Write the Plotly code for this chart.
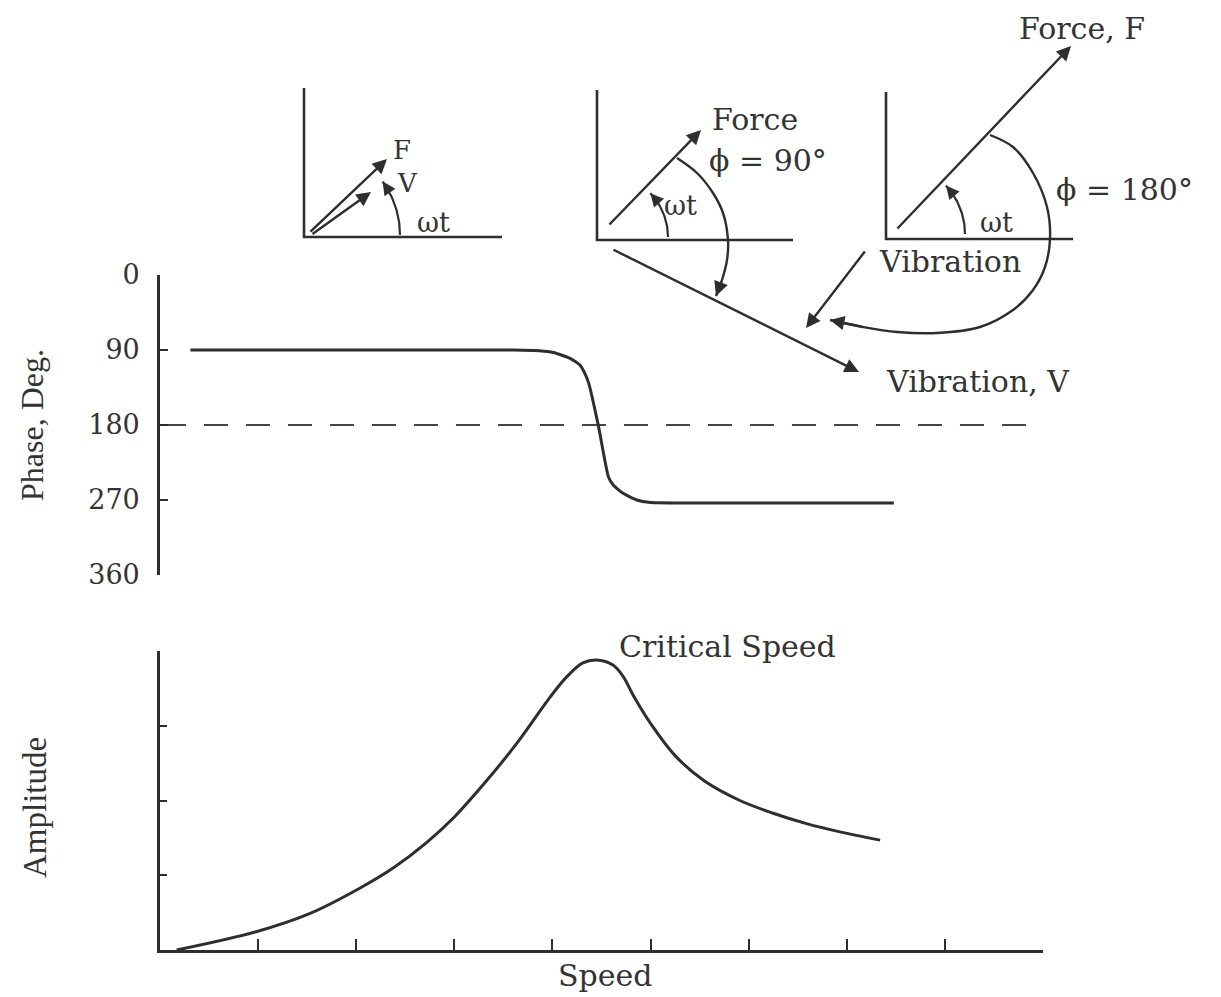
import numpy as np
import plotly.graph_objects as go

W, H = 1221, 997
INK = "#2e2e2e"
TXT = "#333333"
SERIF = "DejaVu Serif"

# ---------------- data ----------------
SPEED_TICKS = [1, 2, 3, 4, 5, 6, 7, 8, 9]
PHASE_TICKS = [0, 90, 180, 270, 360]
PHASE_TICK_LABELS = ["0", "90", "180", "270", "360"]
AMP_TICKS = [0, 1, 2, 3, 4]

PHASE_SPEED = [0.31, 1.5, 3.0, 3.6, 3.87, 4.01, 4.18, 4.28, 4.33, 4.37, 4.47, 4.57, 4.62, 4.72, 4.86, 5.0, 5.71, 7.48]
PHASE_DEG = [90, 90, 90, 90, 90.8, 93, 100, 108, 118, 130, 182, 242, 252, 262, 270, 273, 273.5, 273.5]

REF_SPEED = [0.02, 8.9]
REF_PHASE = [180, 180]

AMP_SPEED = [0.17, 0.98, 1.53, 2.04, 2.38, 2.72, 3.0, 3.30, 3.64, 3.98, 4.15, 4.31, 4.45,
             4.62, 4.72, 4.83, 5.0, 5.25, 5.55, 5.91, 6.25, 6.59, 6.93, 7.34]
AMPLITUDE = [0.0, 0.245, 0.49, 0.83, 1.10, 1.44, 1.78, 2.22, 2.77, 3.39, 3.66, 3.84, 3.88,
             3.81, 3.66, 3.39, 3.03, 2.60, 2.26, 2.00, 1.83, 1.69, 1.58, 1.47]

# vector diagrams (drawn in an overlay frame measured in pixels)
FRAME_ORIGINS = [(304, 237), (597, 240), (886, 239)]
FRAME_HEIGHTS = [149, 150, 147]
FRAME_WIDTHS = [198, 196, 187]
VECTORS = [  # x0, y0, x1, y1
    (309, 233, 387, 159),   # F (diagram 1)
    (311, 235, 371, 192),   # V (diagram 1)
    (608, 226, 701, 130),   # Force (diagram 2)
    (612, 249, 859, 372),   # Vibration, V (diagram 2)
    (896, 230, 1071, 46),   # Force, F (diagram 3)
    (866, 250, 806, 328),   # Vibration (diagram 3)
]
WT_ARCS = [  # cx, cy, r, start deg, end deg
    (309, 235, 91, 0, 36),
    (605, 237, 63, 0, 44),
    (894, 234, 71, 0, 43),
]
PHI90_ARC_X = [677, 697, 713, 723, 728, 727, 722, 716]
PHI90_ARC_Y = [158, 173, 193, 213, 240, 260, 280, 296]
PHI180_ARC_X = [990, 1013, 1033, 1047, 1050, 1045, 1033, 1013, 980, 937, 897, 863, 830]
PHI180_ARC_Y = [135, 147, 173, 207, 239, 267, 290, 310, 327, 333, 332, 327, 320]

LABELS = [  # text, x, y, size
    ("F", 402, 150, 26), ("V", 407, 183, 26), ("\u03c9t", 433, 222, 27),
    ("Force", 755, 119, 30), ("\u03d5 = 90\u00b0", 768, 160, 30), ("\u03c9t", 680, 205, 27),
    ("Force, F", 1082, 28, 30), ("\u03d5 = 180\u00b0", 1124, 189, 30), ("\u03c9t", 996, 222, 27),
    ("Vibration", 950, 261, 30), ("Vibration, V", 978, 381, 30),
    ("Critical Speed", 727, 646, 30),
]

# ---------------- layout geometry (pixels) ----------------
X_LEFT, X_RIGHT = 160, 1043
PH_TOP, PH_BOT = 275, 575
AM_TOP, AM_BOT = 651, 950


def py(p):
    return 1 - p / H


fig = go.Figure()

fig.add_trace(go.Scatter(x=REF_SPEED, y=REF_PHASE, mode="lines", xaxis="x2", yaxis="y2",
                         line=dict(color="#444", width=2, dash="24px,18px"), hoverinfo="skip"))
fig.add_trace(go.Scatter(x=PHASE_SPEED, y=PHASE_DEG, mode="lines", xaxis="x2", yaxis="y2",
                         line=dict(color=INK, width=3, shape="spline", smoothing=0.5)))
fig.add_trace(go.Scatter(x=AMP_SPEED, y=AMPLITUDE, mode="lines", xaxis="x", yaxis="y",
                         line=dict(color=INK, width=3, shape="spline", smoothing=1.0)))

ann = []
for (ox, oy), h, w in zip(FRAME_ORIGINS, FRAME_HEIGHTS, FRAME_WIDTHS):
    fig.add_trace(go.Scatter(x=[ox, ox, ox + w], y=[oy - h, oy, oy], mode="lines",
                             xaxis="x3", yaxis="y3", line=dict(color=INK, width=2.6),
                             hoverinfo="skip"))


def arrow(x0, y0, x1, y1, width=2.4):
    ann.append(dict(x=x1, y=y1, ax=x0, ay=y0, xref="x3", yref="y3", axref="x3", ayref="y3",
                    showarrow=True, arrowhead=2, arrowsize=1.2, arrowwidth=width,
                    arrowcolor=INK, text="", standoff=0, startstandoff=0))


for v in VECTORS:
    arrow(*v)

for cx, cy, r, a0, a1 in WT_ARCS:
    t = np.radians(np.linspace(a0, a1, 40))
    xs = cx + r * np.cos(t)
    ys = cy - r * np.sin(t)
    fig.add_trace(go.Scatter(x=xs, y=ys, mode="lines", xaxis="x3", yaxis="y3",
                             line=dict(color=INK, width=2.2), hoverinfo="skip"))
    arrow(xs[-6], ys[-6], xs[-1], ys[-1], 2.2)

for ax_, ay_ in [(PHI90_ARC_X, PHI90_ARC_Y), (PHI180_ARC_X, PHI180_ARC_Y)]:
    fig.add_trace(go.Scatter(x=ax_, y=ay_, mode="lines", xaxis="x3", yaxis="y3",
                             line=dict(color=INK, width=2.4, shape="spline"), hoverinfo="skip"))
    arrow(ax_[-2], ay_[-2], ax_[-1], ay_[-1], 2.4)

for text, x, y, s in LABELS:
    ann.append(dict(x=x, y=y, xref="x3", yref="y3", text=text, showarrow=False,
                    xanchor="center", yanchor="middle",
                    font=dict(family=SERIF, size=s, color=TXT)))

ann.append(dict(x=32, y=425, xref="x3", yref="y3", text="Phase, Deg.", showarrow=False,
                textangle=-90, font=dict(family="Liberation Serif", size=32, color=TXT)))
ann.append(dict(x=35, y=808, xref="x3", yref="y3", text="Amplitude", showarrow=False,
                textangle=-90, font=dict(family="Liberation Serif", size=33, color=TXT)))
ann.append(dict(x=605, y=975, xref="x3", yref="y3", text="Speed", showarrow=False,
                font=dict(family=SERIF, size=30, color=TXT)))

axis_line = dict(showline=True, linecolor=INK, linewidth=2.6, showgrid=False, zeroline=False,
                 ticks="inside", tickcolor=INK, tickwidth=2.4, automargin=False)

fig.update_layout(
    width=W, height=H, margin=dict(l=0, r=0, t=0, b=0, pad=0, autoexpand=False),
    paper_bgcolor="white", plot_bgcolor="rgba(0,0,0,0)", showlegend=False,
    xaxis=dict(domain=[X_LEFT / W, X_RIGHT / W], range=[0, 9], anchor="y",
               tickvals=SPEED_TICKS, showticklabels=False, ticklen=11, **axis_line),
    yaxis=dict(domain=[py(AM_BOT), py(AM_TOP)], range=[0, 4], anchor="x",
               tickvals=AMP_TICKS, showticklabels=False, ticklen=7, **axis_line),
    xaxis2=dict(domain=[X_LEFT / W, X_RIGHT / W], range=[0, 9], anchor="y2", visible=False,
                automargin=False),
    yaxis2=dict(domain=[py(PH_BOT), py(PH_TOP)], range=[360, 0], anchor="x2",
                tickvals=PHASE_TICKS, ticktext=PHASE_TICK_LABELS, ticklen=8,
                ticklabelstandoff=12,
                tickfont=dict(family=SERIF, size=27, color=TXT), **axis_line),
    xaxis3=dict(domain=[0, 1], range=[0, W], anchor="y3", visible=False, automargin=False),
    yaxis3=dict(domain=[0, 1], range=[H, 0], anchor="x3", visible=False, automargin=False),
    annotations=ann,
)

fig.write_html("out.html", config={"displayModeBar": False},
               post_script="document.body.style.margin='0';document.body.style.overflow='hidden';")
